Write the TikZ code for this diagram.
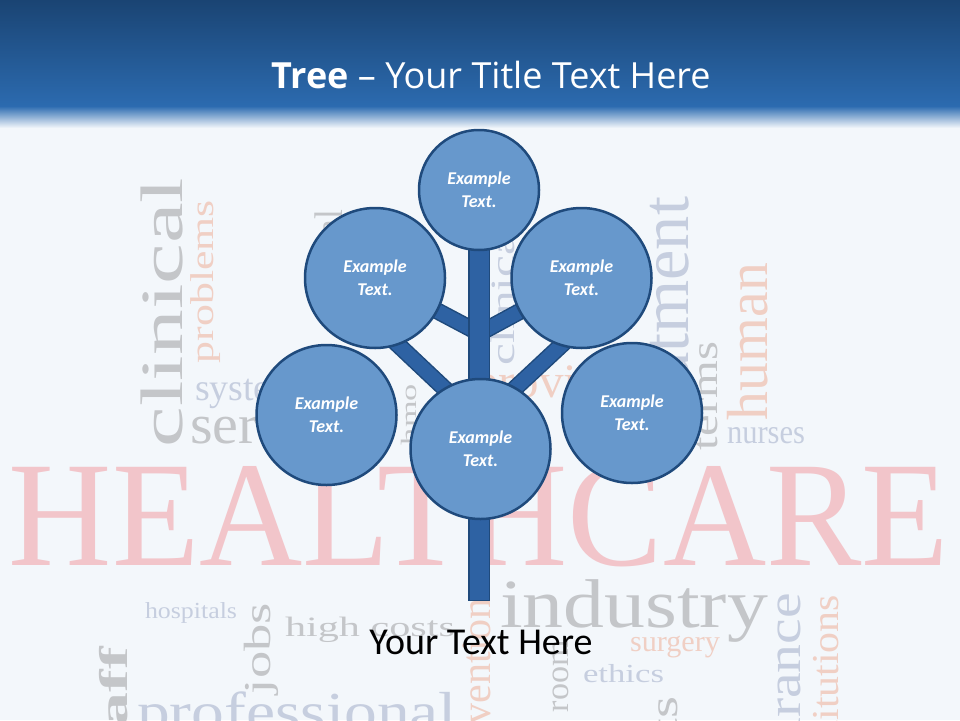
\documentclass[tikz,border=0pt]{standalone}
\usepackage{fontspec}
\usepackage{graphicx}
\setmainfont{Carlito}
\newfontfamily\wcfont{Liberation Serif}
\newfontfamily\titlefont{Open Sans}
\definecolor{bg}{HTML}{F3F7FB}
\definecolor{hdtop}{HTML}{1A4473}
\definecolor{hdbot}{HTML}{2C6BB0}
\definecolor{cfill}{HTML}{6798CC}
\definecolor{cline}{HTML}{1F4A7C}
\definecolor{tfill}{HTML}{2E62A3}
\definecolor{wgray}{HTML}{C4C6C9}
\definecolor{wblue}{HTML}{C6CEDF}
\definecolor{wsalmon}{HTML}{F0CFC4}
\definecolor{wpink}{HTML}{F2C5CA}
\newcommand\wordH[7]{\node[wc,text=#4,anchor=base west] (#1) at (#2,#3) {\resizebox{#6pt}{\height}{\fontsize{#5pt}{#5pt}\selectfont #7}};}
\newcommand\wordVs[7]{\node[wc,text=#4,anchor=base west,rotate=90] (#1) at (#2,#3) {\resizebox{#6pt}{\height}{\fontsize{#5pt}{#5pt}\selectfont #7}};}
\newcommand\wordVe[7]{\node[wc,text=#4,anchor=base east,rotate=90] (#1) at (#2,#3) {\resizebox{#6pt}{\height}{\fontsize{#5pt}{#5pt}\selectfont #7}};}
\begin{document}
\begin{tikzpicture}[x=1pt,y=-1pt,
  wc/.style={inner sep=0pt,outer sep=0pt,font=\wcfont},
  bubble/.style={circle,draw=cline,line width=2.5pt,fill=cfill,inner sep=0pt,
    text=white,align=center,font=\fontsize{18}{23}\selectfont\bfseries\itshape},
  bigbubble/.style={bubble,minimum size=140pt},
  smallbubble/.style={bubble,minimum size=120pt},
  branchout/.style={line width=17pt,draw=cline},
  branchin/.style={line width=14pt,draw=tfill},
  trunkbox/.style={draw=cline,fill=tfill,line width=1.5pt}]
\useasboundingbox (0,0) rectangle (960,720);
\fill[bg] (0,0) rectangle (960,720);
\begin{scope}
\clip (0,0) rectangle (960,720);
% word cloud
\wordH{w1}{9}{565}{wpink}{150}{940}{HEALTHCARE}
\wordVs{w2}{182}{447}{wgray}{60}{269}{clinical}
\wordVs{w3}{213}{363}{wsalmon}{33}{163}{problems}
\wordH{w4}{195}{400}{wblue}{38}{120}{systems}
\wordH{w5}{190}{443}{wgray}{56}{187}{services}
\wordVs{w6}{416}{445}{wgray}{22}{61}{hmo}
\wordVe{w7}{342}{210}{wgray}{40}{112}{medical}
\wordVs{w8}{514}{365}{wblue}{34}{145}{clinical}
\wordH{w9}{474}{397}{wsalmon}{48}{185}{providers}
\wordVe{w10}{688}{197}{wblue}{68}{258}{treatment}
\wordVs{w11}{717}{450}{wgray}{38}{108}{terms}
\wordVs{w12}{767}{420}{wsalmon}{58}{157}{human}
\wordH{w13}{727}{443}{wblue}{34}{78}{nurses}
\wordH{w14}{145}{618}{wblue}{23}{92}{hospitals}
\wordVs{w15}{270}{694}{wgray}{38}{91}{jobs}
\wordH{w16}{285}{636}{wgray}{28}{170}{high costs}
\wordVe{w17}{127}{647}{wgray}{40}{128}{\bfseries staff}
\wordH{w18}{137}{730}{wblue}{55}{320}{professional}
\wordVe{w19}{490}{598}{wsalmon}{42}{180}{prevention}
\wordVs{w20}{568}{712}{wgray}{33}{72}{room}
\wordH{w21}{583}{682}{wblue}{26}{81}{ethics}
\wordH{w22}{630}{651}{wsalmon}{30}{90}{surgery}
\wordH{w23}{500}{627}{wgray}{69}{268}{industry}
\wordVe{w24}{677}{697}{wgray}{40}{176}{patients}
\wordVe{w25}{800}{593}{wblue}{48}{221}{insurance}
\wordVe{w26}{838}{595}{wsalmon}{38}{186}{institutions}
\end{scope}
% header band
\shade[top color=hdtop,bottom color=hdbot] (0,0) rectangle (960,107);
\shade[top color=hdbot,middle color=hdbot!30!bg,bottom color=bg] (0,106) rectangle (960,128);
\node[font=\titlefont\fontsize{36}{36}\selectfont,text=white,anchor=base,inner sep=0pt] (title) at (491,88) {\textbf{Tree} – Your Title Text Here};
% tree geometry
\coordinate (ctop) at (479,190);
\coordinate (cul) at (375,278);
\coordinate (cur) at (581.5,278);
\coordinate (cll) at (326.5,415);
\coordinate (clr) at (632,413);
\coordinate (cmid) at (480.5,449);
\coordinate (jul) at (479,333);
\coordinate (jur) at (480,333);
\coordinate (jll) at (479,421);
\coordinate (jlr) at (480,421);
\coordinate (ulin) at (376,324);
\coordinate (urin) at (584,324);
\foreach \a/\b in {jul/cul,jur/cur,jll/ulin,jlr/urin}{
  \draw[branchout] (\a) -- (\b);
  \draw[branchin] (\a) -- (\b);
}
\draw[trunkbox] (468.75,240) rectangle (489.25,600.25);
\node[smallbubble] (top) at (ctop) {Example\\Text.};
\node[bigbubble] (ul) at (cul) {Example\\Text.};
\node[bigbubble] (ur) at (cur) {Example\\Text.};
\node[bigbubble] (ll) at (cll) {Example\\Text.};
\node[bigbubble] (lr) at (clr) {Example\\Text.};
\node[bigbubble] (mid) at (cmid) {Example\\Text.};
\node[font=\fontsize{38}{38}\selectfont,text=black,anchor=base,inner sep=0pt] (caption) at (481,654) {Your Text Here};
\end{tikzpicture}
\end{document}
